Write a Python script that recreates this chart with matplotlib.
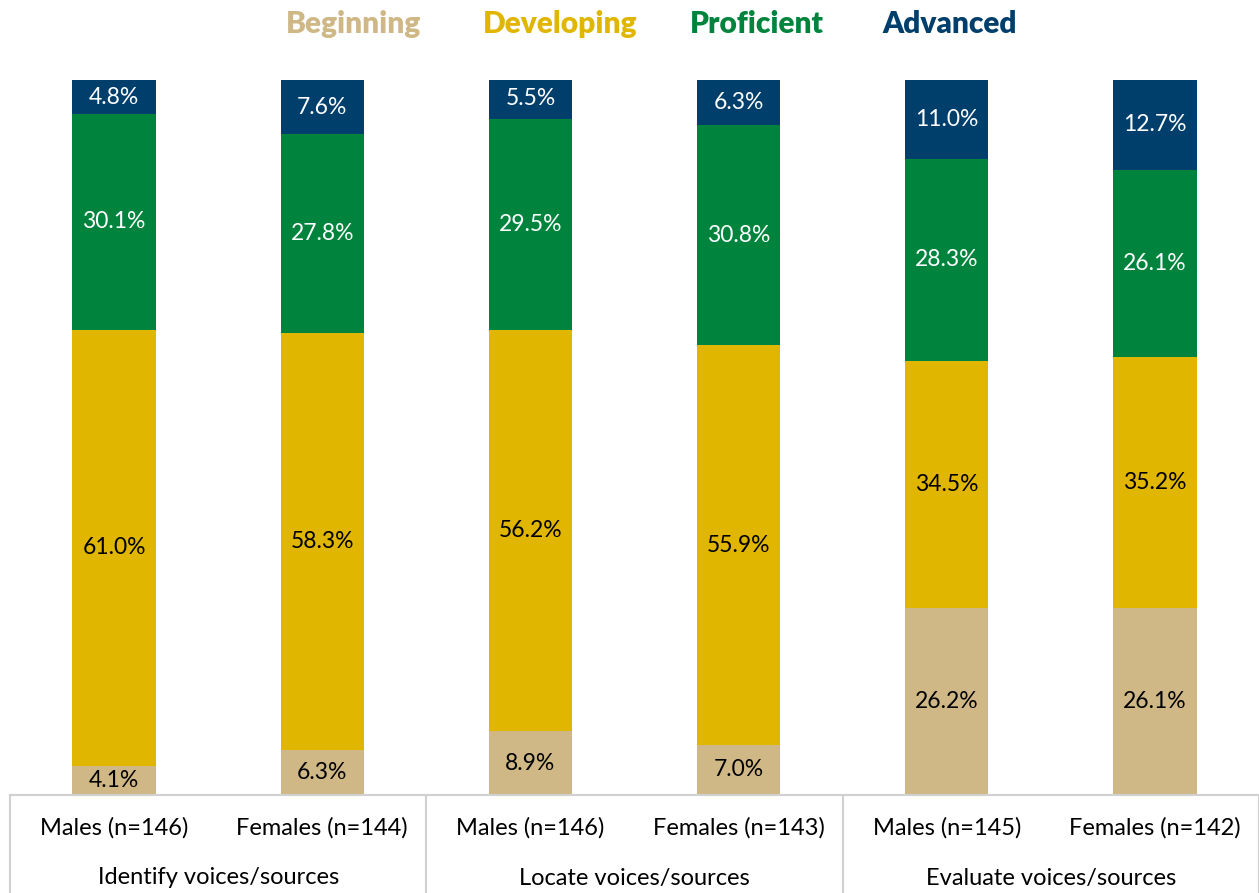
import matplotlib
matplotlib.use("Agg")
import matplotlib.pyplot as plt
import numpy as np

plt.rcParams['font.family'] = ['Lato', 'DejaVu Sans']

sub_labels = ["Males (n=146)", "Females (n=144)", "Males (n=146)", "Females (n=143)",
              "Males (n=145)", "Females (n=142)"]
group_labels = ["Identify voices/sources", "Locate voices/sources", "Evaluate voices/sources"]
levels = ["Beginning", "Developing", "Proficient", "Advanced"]
beginning = [4.1, 6.3, 8.9, 7.0, 26.2, 26.1]
developing = [61.0, 58.3, 56.2, 55.9, 34.5, 35.2]
proficient = [30.1, 27.8, 29.5, 30.8, 28.3, 26.1]
advanced = [4.8, 7.6, 5.5, 6.3, 11.0, 12.7]

colors = ["#CFB886", "#E1B600", "#00843D", "#003F6B"]
text_colors = ["black", "black", "white", "white"]

fig = plt.figure(figsize=(12.59, 8.93), dpi=100)
ax = fig.add_axes([10/1259, 98/893, 1249/1259, 715/893])

series = [beginning, developing, proficient, advanced]
x = np.arange(len(sub_labels))
bottom = np.zeros(len(x))
for vals, col, tc in zip(series, colors, text_colors):
    vals = np.array(vals)
    ax.bar(x, vals, width=0.4, bottom=bottom, color=col, linewidth=0)
    for xi, b, v in zip(x, bottom, vals):
        ax.text(xi, b + v / 2, f"{v:.1f}%", ha="center", va="center",
                fontsize=16.5, color=tc)
    bottom = bottom + vals

ax.set_xlim(-0.5, len(x) - 0.5)
ax.set_ylim(0, 100)
ax.axis("off")

# bottom axis line
ax.plot([-0.5, len(x) - 0.5], [0, 0], color="#D0D0D0", lw=1.5, clip_on=False)
# group separators
for g in range(4):
    xs = -0.5 + 2 * g
    ax.plot([xs, xs], [0, -98 / 7.15], color="#D0D0D0", lw=1.5, clip_on=False)
for xi, lab in zip(x, sub_labels):
    ax.text(xi, -33 / 7.15, lab, ha="center", va="center", fontsize=17)
for g, lab in enumerate(group_labels):
    ax.text(2 * g + 0.5, -83 / 7.15, lab, ha="center", va="center", fontsize=17)

# legend as coloured text
leg_x = [353, 560, 757, 950]
for lx, lab, col in zip(leg_x, levels, colors):
    fig.text(lx / 1259, 1 - 24 / 893, lab, ha="center", va="center",
             fontsize=21.5, fontweight="heavy", color=col)

fig.savefig("out.png", dpi=100)
